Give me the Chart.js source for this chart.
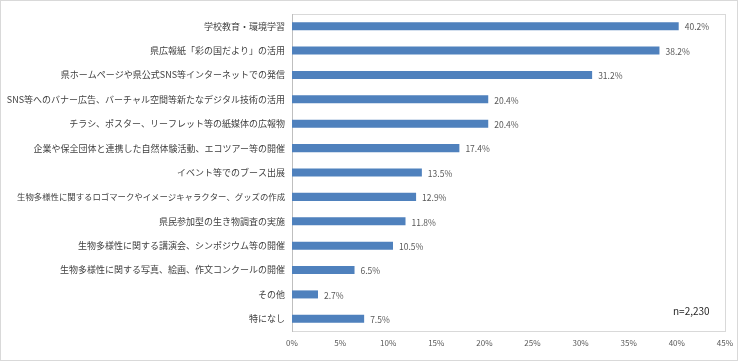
<!DOCTYPE html>
<html><head><meta charset="utf-8">
<script src="https://cdn.jsdelivr.net/npm/chart.js@4"></script>
<style>html,body{margin:0;padding:0;background:#fff}#wrap{width:740px;height:362px;position:relative}</style>
</head><body><div id="wrap"><canvas id="c" width="740" height="362"></canvas></div>
<script>
const categories = ["学校教育・環境学習","県広報紙「彩の国だより」の活用","県ホームページや県公式SNS等インターネットでの発信","SNS等へのバナー広告、バーチャル空間等新たなデジタル技術の活用","チラシ、ポスター、リーフレット等の紙媒体の広報物","企業や保全団体と連携した自然体験活動、エコツアー等の開催","イベント等でのブース出展","生物多様性に関するロゴマークやイメージキャラクター、グッズの作成","県民参加型の生き物調査の実施","生物多様性に関する講演会、シンポジウム等の開催","生物多様性に関する写真、絵画、作文コンクールの開催","その他","特になし"];
const values = [40.2,38.2,31.2,20.4,20.4,17.4,13.5,12.9,11.8,10.5,6.5,2.7,7.5];
const xTicks = [0,5,10,15,20,25,30,35,40,45];
const note = "n=2,230";
const FONT = "'Noto Sans CJK JP','Noto Sans',sans-serif";

const deco = {
  id:'deco',
  beforeDraw(ch){
    const c=ch.ctx; c.save();
    c.strokeStyle='#d9d9d9'; c.lineWidth=1;
    c.strokeRect(0.5,0.5,737,360);
    const a=ch.chartArea;
    c.strokeRect(Math.round(a.left)+0.5,Math.round(a.top)+0.5,Math.round(a.right-a.left),Math.round(a.bottom-a.top));
    c.restore();
  },
  afterDatasetsDraw(ch){
    const c=ch.ctx; c.save();
    const meta=ch.getDatasetMeta(0);
    c.font="8.5px "+FONT; c.fillStyle='#595959'; c.textBaseline='middle'; c.textAlign='left';
    meta.data.forEach((b,i)=>{ c.fillText(values[i].toFixed(1)+'%', b.x+6, b.y+1); });
    c.font="10px "+FONT; c.fillStyle='#262626'; c.textAlign='left';
    c.fillText(note, 673, 311);
    c.restore();
  }
};

new Chart(document.getElementById('c'),{
  type:'bar',
  data:{labels:categories,datasets:[{data:values,backgroundColor:'#4f81bd',barPercentage:0.33,categoryPercentage:1}]},
  options:{
    indexAxis:'y',responsive:false,animation:false,
    layout:{padding:{left:0,right:14,top:14,bottom:0}},
    plugins:{legend:{display:false},tooltip:{enabled:false}},
    scales:{
      x:{min:0,max:45,afterBuildTicks(s){s.ticks=xTicks.map(v=>({value:v}));},
        grid:{display:false,drawTicks:false},border:{display:false},
        ticks:{callback:v=>v+'%',font:{size:8,family:FONT},color:'#595959',padding:7,maxRotation:0},
        afterFit(s){s.height=31;}},
      y:{grid:{display:false,drawTicks:false},border:{display:true,color:'#bfbfbf'},
        ticks:{font:ctx=>({size:(ctx.index===7?8.4:9),family:FONT}),color:'#404040',padding:7,autoSkip:false},
        afterFit(s){s.width=292;}}
    }
  },
  plugins:[deco]
});
</script></body></html>
